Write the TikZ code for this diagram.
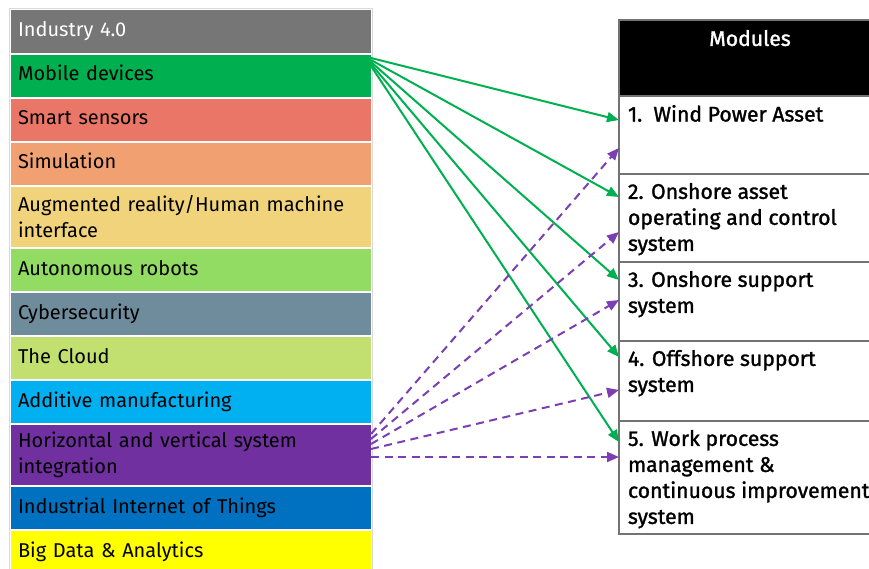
\documentclass[tikz,border=0pt]{standalone}
\usepackage{fontspec}
\setmainfont{Fira Sans}
\newfontfamily\modfont{Fira Sans}[FakeBold=1.4]
\usetikzlibrary{positioning,arrows.meta}

\definecolor{hdrgray}{RGB}{118,118,118}
\definecolor{mobgreen}{RGB}{0,176,80}
\definecolor{sensred}{RGB}{234,118,103}
\definecolor{simorange}{RGB}{241,161,113}
\definecolor{augyellow}{RGB}{240,211,122}
\definecolor{robgreen}{RGB}{146,220,100}
\definecolor{cybgray}{RGB}{110,140,156}
\definecolor{cloudgreen}{RGB}{194,224,112}
\definecolor{addblue}{RGB}{0,176,240}
\definecolor{horpurple}{RGB}{112,48,160}
\definecolor{iotblue}{RGB}{0,112,192}
\definecolor{bigyellow}{RGB}{255,255,0}
\definecolor{arrpurple}{RGB}{123,63,178}

\newcommand{\rowfont}{\fontsize{20}{26}\selectfont}
\newcommand{\modsize}{\fontsize{21.2}{26}\selectfont}
\newcommand{\modcell}[3][9pt]{\parbox[c][#2pt][t]{244pt}{\vspace*{#1}#3}}

\tikzset{
	cell/.style={rectangle, outer sep=0pt, minimum width=360pt, text width=346pt, inner xsep=7pt, inner ysep=0pt, align=left, font=\rowfont},
	row/.style={cell, minimum height=42pt, text height=16pt, text depth=6pt},
	tallrow/.style={cell, minimum height=60pt},
	modbox/.style={rectangle, outer sep=0pt, draw=black!55, line width=1.2pt, inner xsep=9pt, inner ysep=0pt, font=\modfont\modsize},
	gline/.style={draw=mobgreen, line width=2pt, -{Triangle[length=12pt,width=10pt]}},
	pline/.style={draw=arrpurple, line width=2pt, dash pattern=on 8pt off 5.5pt, -{Triangle[length=12pt,width=10pt]}}
}

\begin{document}
\begin{tikzpicture}[x=1pt,y=-1pt]
	\useasboundingbox (0,0) rectangle (869,569);

	% technologies
	\draw[black!15] (9.5,8.5) rectangle (372.5,575);
	\node[row, fill=hdrgray, text=white, minimum height=43pt, anchor=north west] (ind) at (11,10) {Industry 4.0};
	\node[row, fill=mobgreen, below=2pt of ind] (mob) {Mobile devices};
	\node[row, fill=sensred, below=2pt of mob] (sens) {Smart sensors};
	\node[row, fill=simorange, below=2pt of sens] (sim) {Simulation};
	\node[tallrow, fill=augyellow, below=2pt of sim] (aug) {Augmented reality/Human machine\\interface};
	\node[row, fill=robgreen, below=2pt of aug] (rob) {Autonomous robots};
	\node[row, fill=cybgray, below=2pt of rob] (cyb) {Cybersecurity};
	\node[row, fill=cloudgreen, below=2pt of cyb] (cloud) {The Cloud};
	\node[row, fill=addblue, below=2pt of cloud] (add) {Additive manufacturing};
	\node[tallrow, fill=horpurple, below=2pt of add] (hor) {Horizontal and vertical system\\integration};
	\node[row, fill=iotblue, below=2pt of hor] (iot) {Industrial Internet of Things};
	\node[row, fill=bigyellow, below=2pt of iot] (big) {Big Data \& Analytics};

	% modules
	\node[modbox, fill=black, text=white, anchor=north west] (modh) at (619,20) {\modcell[10pt]{76}{\centering Modules}};
	\node[modbox, below=0pt of modh] (m1) {\modcell{78}{1.\ \ Wind Power Asset}};
	\node[modbox, below=0pt of m1] (m2) {\modcell{88}{2. Onshore asset\\operating and control\\system}};
	\node[modbox, below=0pt of m2] (m3) {\modcell{79}{3. Onshore support\\system}};
	\node[modbox, below=0pt of m3] (m4) {\modcell{80}{4. Offshore support\\system}};
	\node[modbox, below=0pt of m4] (m5) {\modcell{113}{5. Work process\\management \&\\continuous improvement\\system}};

	% mobile devices
	\draw[gline] ([yshift=-3pt]mob.north east) -- ([yshift=-24pt]m1.north west);
	\draw[gline] ([yshift=-5pt]mob.north east) -- ([yshift=-23pt]m2.north west);
	\draw[gline] ([yshift=-7pt]mob.north east) -- ([yshift=-18pt]m3.north west);
	\draw[gline] ([yshift=-9pt]mob.north east) -- ([yshift=-16pt]m4.north west);
	\draw[gline] ([yshift=-11pt]mob.north east) -- ([yshift=-21pt]m5.north west);

	% system integration
	\draw[pline] ([yshift=-9pt]hor.north east) -- ([yshift=-52pt]m1.north west);
	\draw[pline] ([yshift=-14pt]hor.north east) -- ([yshift=-58pt]m2.north west);
	\draw[pline] ([yshift=-19pt]hor.north east) -- ([yshift=-38pt]m3.north west);
	\draw[pline] ([yshift=-24pt]hor.north east) -- ([yshift=-49pt]m4.north west);
	\draw[pline] ([yshift=-32pt]hor.north east) -- ([yshift=-36pt]m5.north west);
\end{tikzpicture}
\end{document}
